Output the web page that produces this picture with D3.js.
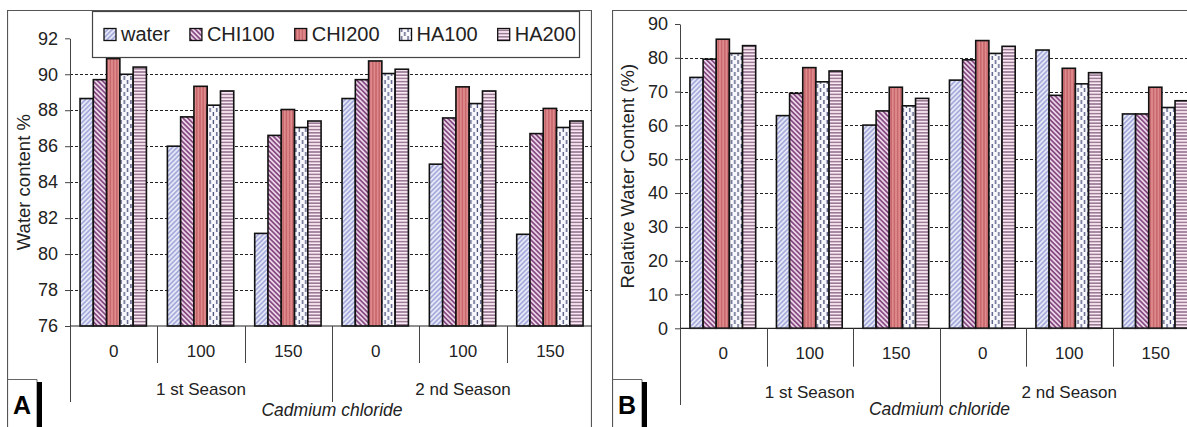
<!DOCTYPE html>
<html>
<head>
<meta charset="utf-8">
<script src="https://cdn.jsdelivr.net/npm/d3@7"></script>
<style>
  body { margin: 0; background: #fff; }
  svg { display: block; font-family: Arial, "Liberation Sans", sans-serif; }
</style>
</head>
<body>
<div id="chart"></div>
<script>
// categories
var doses = ["0", "100", "150", "0", "100", "150"];
var seasons = ["1 st Season", "2 nd Season"];
var series = ["water", "CHI100", "CHI200", "HA100", "HA200"];

// panel A: water content % (one row per series, one value per dose/season group)
var waterContent = [
  [88.65, 86.0, 81.15, 88.65, 85.0, 81.1],   // water
  [89.7, 87.63, 86.6, 89.7, 87.57, 86.7],    // CHI100
  [90.87, 89.33, 88.04, 90.74, 89.3, 88.1],  // CHI200
  [90.0, 88.28, 87.04, 90.04, 88.37, 87.04], // HA100
  [90.4, 89.07, 87.4, 90.28, 89.07, 87.4]    // HA200
];
// panel B: relative water content (%)
var relWaterContent = [
  [74.2, 62.9, 60.1, 73.4, 82.3, 63.4],
  [79.6, 69.5, 64.3, 79.4, 68.9, 63.4],
  [85.5, 77.1, 71.3, 85.1, 76.9, 71.3],
  [81.3, 72.9, 65.8, 81.3, 72.3, 65.3],
  [83.6, 76.1, 68.0, 83.4, 75.6, 67.3]
];

var ticksA = [76, 78, 80, 82, 84, 86, 88, 90, 92];
var ticksB = [0, 10, 20, 30, 40, 50, 60, 70, 80, 90];

var W = 1187, H = 427;

var svg = d3.select("#chart").append("svg")
  .attr("width", W).attr("height", H);

var defs = svg.append("defs");

// fill patterns, one per series
function stripes(id, bg, col, width, size, angle) {
  var p = defs.append("pattern").attr("id", id)
    .attr("patternUnits", "userSpaceOnUse")
    .attr("width", size).attr("height", size)
    .attr("patternTransform", "rotate(" + angle + ")");
  p.append("rect").attr("width", size).attr("height", size).attr("fill", bg);
  p.append("line").attr("x1", size / 2).attr("x2", size / 2)
    .attr("y1", 0).attr("y2", size)
    .attr("stroke", col).attr("stroke-width", width);
}
stripes("pat-water", "#e6e8f7", "#9ea4d8", 1.5, 3.4, 45);
stripes("pat-chi100", "#ecd4e8", "#864c82", 1.7, 3.4, -45);
stripes("pat-chi200", "#df8b8c", "#bd5660", 1.1, 3.2, 0);
stripes("pat-ha200", "#fbe8f4", "#84637f", 1.3, 3.2, 90);

(function () {
  var p = defs.append("pattern").attr("id", "pat-ha100")
    .attr("patternUnits", "userSpaceOnUse")
    .attr("width", 6.6).attr("height", 8);
  p.append("rect").attr("width", 6.6).attr("height", 8).attr("fill", "#f7f7fc");
  p.append("rect").attr("x", 1.6).attr("y", 0).attr("width", 1.3).attr("height", 4).attr("fill", "#4b507c");
  p.append("rect").attr("x", 4.9).attr("y", 4).attr("width", 1.3).attr("height", 4).attr("fill", "#4b507c");
})();

var patIds = ["pat-water", "pat-chi100", "pat-chi200", "pat-ha100", "pat-ha200"];

function drawPanel(p) {
  defs.append("clipPath").attr("id", p.id + "-clip")
    .append("rect").attr("x", p.frameX).attr("y", 0)
    .attr("width", p.frameW).attr("height", H);

  var g = svg.append("g").attr("clip-path", "url(#" + p.id + "-clip)");

  // outer frame
  g.append("path")
    .attr("d", "M" + (p.frameX + 0.5) + "," + H + "V" + 10.5 + "H" + (p.frameX + p.frameW - 0.5) + "V" + H)
    .attr("fill", "none").attr("stroke", "#555").attr("stroke-width", 1.2);

  var x0 = d3.scaleBand().domain(d3.range(doses.length)).range(p.xRange);
  var bw = x0.bandwidth();
  var x1 = d3.scaleBand().domain(d3.range(series.length)).range([bw * 0.115, bw * 0.875]);
  var y = d3.scaleLinear().domain(p.domain).range([p.yBottom, p.yTop]);

  // dashed gridlines
  g.append("g").selectAll("line")
    .data(p.ticks.slice(1, -1))
    .enter().append("line")
    .attr("x1", p.xRange[0]).attr("x2", p.xRange[1])
    .attr("y1", function (d) { return Math.round(y(d)) + 0.5; })
    .attr("y2", function (d) { return Math.round(y(d)) + 0.5; })
    .attr("stroke", "#222").attr("stroke-width", 1)
    .attr("stroke-dasharray", "3,2");

  // bars
  var rows = [];
  p.values.forEach(function (vals, s) {
    vals.forEach(function (v, i) { rows.push({ s: s, i: i, v: v }); });
  });
  g.append("g").selectAll("rect")
    .data(rows).enter().append("rect")
    .attr("x", function (d) { return x0(d.i) + x1(d.s); })
    .attr("width", x1.bandwidth())
    .attr("y", function (d) { return y(d.v); })
    .attr("height", function (d) { return y(p.domain[0]) - y(d.v); })
    .attr("fill", function (d) { return "url(#" + patIds[d.s] + ")"; })
    .attr("stroke", "#111").attr("stroke-width", 1.6);

  // y axis
  var yAxis = g.append("g")
    .attr("transform", "translate(" + p.xRange[0] + ",0)")
    .call(d3.axisLeft(y).tickValues(p.ticks).tickSize(5).tickSizeOuter(0).tickPadding(7));
  yAxis.select(".domain").attr("stroke", "#444");
  yAxis.selectAll(".tick line").attr("stroke", "#444");
  yAxis.selectAll(".tick text").attr("font-size", 18).attr("fill", "#222")
    .attr("font-family", "Arial, 'Liberation Sans', sans-serif");

  // x axis line
  g.append("line")
    .attr("x1", p.xRange[0]).attr("x2", p.xRange[1])
    .attr("y1", p.yBottom).attr("y2", p.yBottom)
    .attr("stroke", "#222").attr("stroke-width", 1.2);

  // category separators
  var seps = d3.range(doses.length + 1);
  g.append("g").selectAll("line")
    .data(seps).enter().append("line")
    .attr("x1", function (i) { return Math.round(p.xRange[0] + i * bw) + 0.5; })
    .attr("x2", function (i) { return Math.round(p.xRange[0] + i * bw) + 0.5; })
    .attr("y1", p.yBottom)
    .attr("y2", function (i) { return i % 3 === 0 ? p.sepLong : p.sepShort; })
    .attr("stroke", "#444").attr("stroke-width", 1);

  // dose labels
  g.append("g").selectAll("text")
    .data(doses).enter().append("text")
    .attr("x", function (d, i) { return x0(i) + bw / 2; })
    .attr("y", p.doseY)
    .attr("text-anchor", "middle").attr("font-size", 17).attr("fill", "#222")
    .text(function (d) { return d; });

  // season labels
  g.append("g").selectAll("text")
    .data(seasons).enter().append("text")
    .attr("x", function (d, i) { return p.xRange[0] + (i * 3 + 1.5) * bw; })
    .attr("y", p.seasonY)
    .attr("text-anchor", "middle").attr("font-size", 17).attr("fill", "#222")
    .text(function (d) { return d; });

  g.append("text")
    .attr("x", p.xRange[0] + 3 * bw)
    .attr("y", p.cadY)
    .attr("text-anchor", "middle").attr("font-size", 17.5).attr("font-style", "italic").attr("fill", "#222")
    .text("Cadmium chloride");

  // y title
  g.append("text")
    .attr("transform", "translate(" + p.titleX + "," + ((p.yTop + p.yBottom) / 2) + ") rotate(-90)")
    .attr("text-anchor", "middle").attr("dy", "0.35em")
    .attr("font-size", 18.5).attr("fill", "#222")
    .text(p.title);

  // panel letter
  var lx = p.frameX;
  g.append("path")
    .attr("d", "M" + (lx + 0.5) + "," + 379.5 + "H" + (lx + 30) + "V" + H)
    .attr("fill", "none").attr("stroke", "#666").attr("stroke-width", 1);
  g.append("rect").attr("x", lx + 30).attr("y", 382).attr("width", 5).attr("height", H - 382).attr("fill", "#000");
  g.append("text")
    .attr("x", lx + 15).attr("y", 414)
    .attr("text-anchor", "middle").attr("font-size", 25).attr("font-weight", "bold").attr("fill", "#000")
    .text(p.letter);

  return g;
}

var gA = drawPanel({
  id: "A", letter: "A", frameX: 7, frameW: 585,
  xRange: [70, 594], yTop: 38.3, yBottom: 326, domain: [76, 92], ticks: ticksA,
  values: waterContent, title: "Water content %", titleX: 24,
  sepShort: 363, sepLong: 402, doseY: 357, seasonY: 395, cadY: 416
});

drawPanel({
  id: "B", letter: "B", frameX: 612, frameW: 600,
  xRange: [680, 1199], yTop: 24, yBottom: 328.3, domain: [0, 90], ticks: ticksB,
  values: relWaterContent, title: "Relative Water Content (%)", titleX: 628,
  sepShort: 366.7, sepLong: 405, doseY: 359, seasonY: 398, cadY: 415
});

// legend (panel A)
var legend = gA.append("g");
legend.append("rect")
  .attr("x", 92.5).attr("y", 11.5).attr("width", 487).attr("height", 46)
  .attr("fill", "#fff").attr("stroke", "#444").attr("stroke-width", 1.2);

var lxPos = 104;
series.forEach(function (name, s) {
  legend.append("rect")
    .attr("x", lxPos).attr("y", 28.5).attr("width", 12).attr("height", 12)
    .attr("fill", "url(#" + patIds[s] + ")")
    .attr("stroke", "#111").attr("stroke-width", 1.3);
  var t = legend.append("text")
    .attr("x", lxPos + 17).attr("y", 41)
    .attr("font-size", 20).attr("fill", "#222")
    .text(name);
  lxPos += 17 + t.node().getComputedTextLength() + 20;
});
</script>
</body>
</html>
